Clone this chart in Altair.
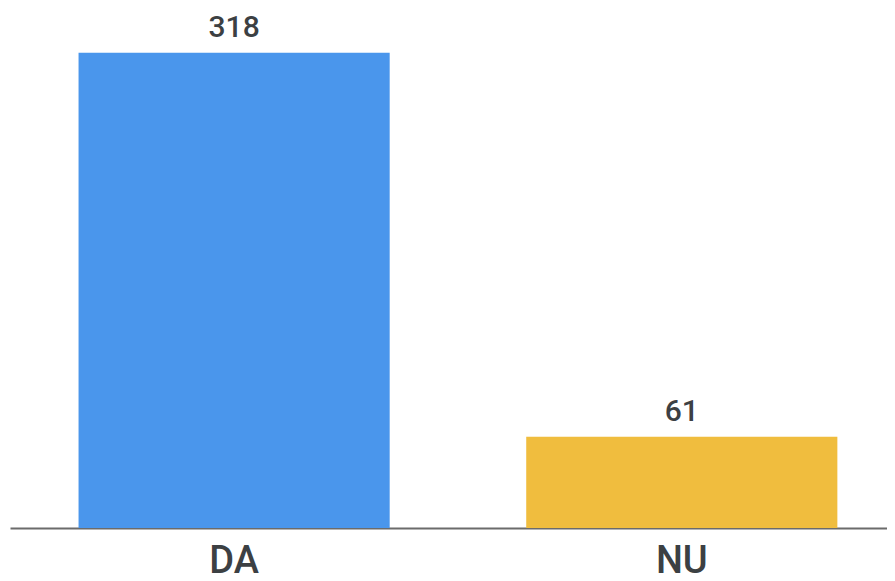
import altair as alt
import pandas as pd

categories = ["DA", "NU"]
values = [318, 61]
colors = ["#4a96ec", "#f0bd3e"]

df = pd.DataFrame({"cat": categories, "val": values, "color": colors})

x = alt.X("cat:N", sort=categories,
          scale=alt.Scale(paddingInner=0.305, paddingOuter=0.132, align=0.58),
          axis=alt.Axis(title=None, labelAngle=0, labelFontSize=38, labelFont="Roboto",
                        labelFontWeight=500, labelColor="#3c4043", labelPadding=14,
                        ticks=False, domainColor="#6b6b6b", domainWidth=2))
y = alt.Y("val:Q", scale=alt.Scale(domain=[0, 348], nice=False),
          axis=None)

bars = alt.Chart(df).mark_bar().encode(
    x=x, y=y, color=alt.Color("color:N", scale=None)
)
text = alt.Chart(df).mark_text(
    baseline="bottom", dy=-10, fontSize=30, font="Roboto", fontWeight=500, color="#3c4043"
).encode(x=alt.X("cat:N", sort=categories), y="val:Q", text="val:Q")

chart = (bars + text).properties(
    width=877, height=520,
    autosize=alt.AutoSizeParams(type="none"),
    padding={"left": 2, "top": 0, "right": 0, "bottom": 53},
).configure_view(stroke=None)

chart.save("out.html", embed_options={"renderer": "svg", "actions": False})
